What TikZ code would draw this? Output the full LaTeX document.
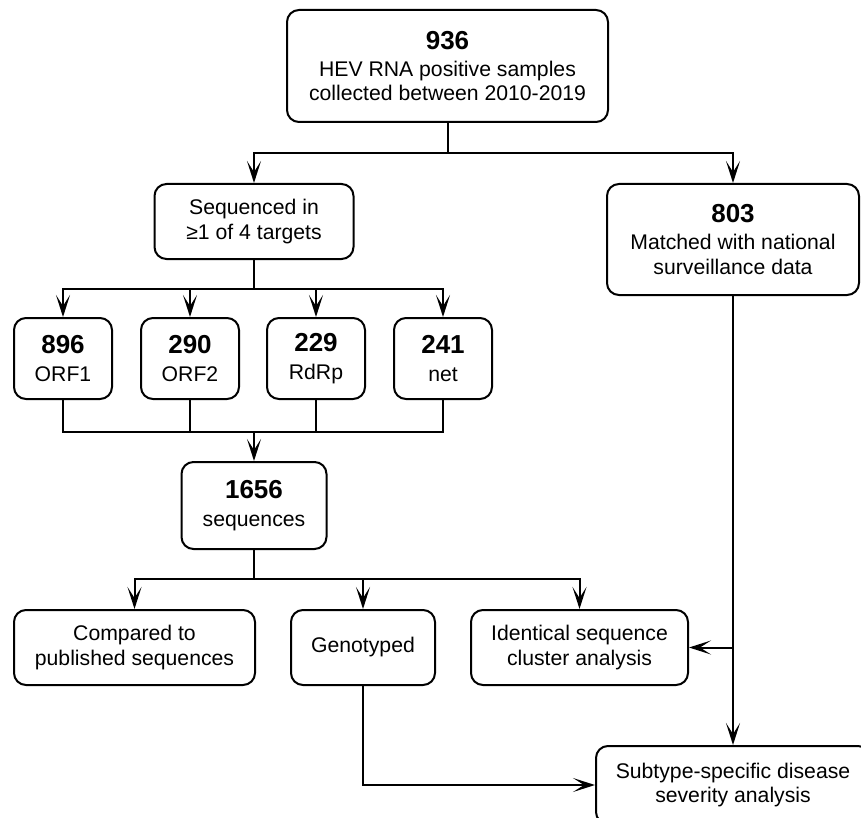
\documentclass[tikz,border=0pt]{standalone}
\usepackage{fontspec}
\setmainfont{Liberation Sans}
\usetikzlibrary{arrows.meta}

\newcommand{\cnt}[1]{{\fontsize{13}{15}\selectfont\bfseries #1}\\[1.5pt]}

\tikzset{
  box/.style={draw, line width=1pt, rounded corners=6pt, align=center,
    inner sep=0pt, font=\fontsize{10.6}{12.2}\selectfont},
  line/.style={line width=1pt},
  arr/.style={line width=1pt, -{Stealth[length=11pt,width=7pt,inset=5.5pt]}}
}

\begin{document}
\begin{tikzpicture}[x=.5pt,y=-.5pt]
  \clip (0,0) rectangle (861,818);

  \node [box, minimum width=160.5pt, minimum height=56pt] (all) at (447.5,66)
    {\cnt{936}HEV RNA positive samples\\collected between 2010-2019};
  \node [box, minimum width=99.5pt, minimum height=37.5pt] (seq) at (254,221.5)
    {Sequenced in\\≥1 of 4 targets};
  \node [box, minimum width=126pt, minimum height=55.5pt] (match) at (733,239.5)
    {\cnt{803}Matched with national\\surveillance data};

  \node [box, minimum width=49pt, minimum height=40.5pt] (orf1) at (63,358.5) {\cnt{896}ORF1};
  \node [box, minimum width=49pt, minimum height=40.5pt] (orf2) at (190,358.5) {\cnt{290}ORF2};
  \node [box, minimum width=49pt, minimum height=40.5pt] (rdrp) at (316,358.5) {\cnt{229}RdRp};
  \node [box, minimum width=49pt, minimum height=40.5pt] (net) at (443,358.5) {\cnt{241}net};

  \node [box, minimum width=72.5pt, minimum height=43.5pt] (seqs) at (254,505.5)
    {\cnt{1656}sequences};

  \node [box, minimum width=120.5pt, minimum height=37.5pt] (comp) at (134.5,647.5)
    {Compared to\\published sequences};
  \node [box, minimum width=72pt, minimum height=37.5pt] (geno) at (363,647.5)
    {Genotyped};
  \node [box, minimum width=108.5pt, minimum height=37.5pt] (ident) at (579.5,647.5)
    {Identical sequence\\cluster analysis};
  \node [box, minimum width=137pt, minimum height=39pt] (sub) at (733,785)
    {Subtype-specific disease\\severity analysis};

  \coordinate (j1) at (447.5,153);
  \coordinate (j2) at (254,289);
  \coordinate (j3) at (254,432);
  \coordinate (j4) at (254,579);
  \coordinate (j5) at (733,647.5);

  \draw [line] (all) -- (j1);
  \draw [arr] (j1) -| (seq);
  \draw [arr] (j1) -| (match);

  \draw [line] (seq) -- (j2);
  \foreach \b in {orf1,orf2,rdrp,net}
    \draw [arr] (j2) -| (\b);

  \foreach \b in {orf1,orf2,rdrp,net}
    \draw [line] (\b) |- (j3);
  \draw [arr] (j3) -- (seqs);

  \draw [line] (seqs) -- (j4);
  \foreach \b in {comp,geno,ident}
    \draw [arr] (j4) -| (\b);

  \draw [arr] (match) -- (sub);
  \draw [arr] (j5) -- (ident);
  \draw [arr] (geno) |- (sub);
\end{tikzpicture}
\end{document}
